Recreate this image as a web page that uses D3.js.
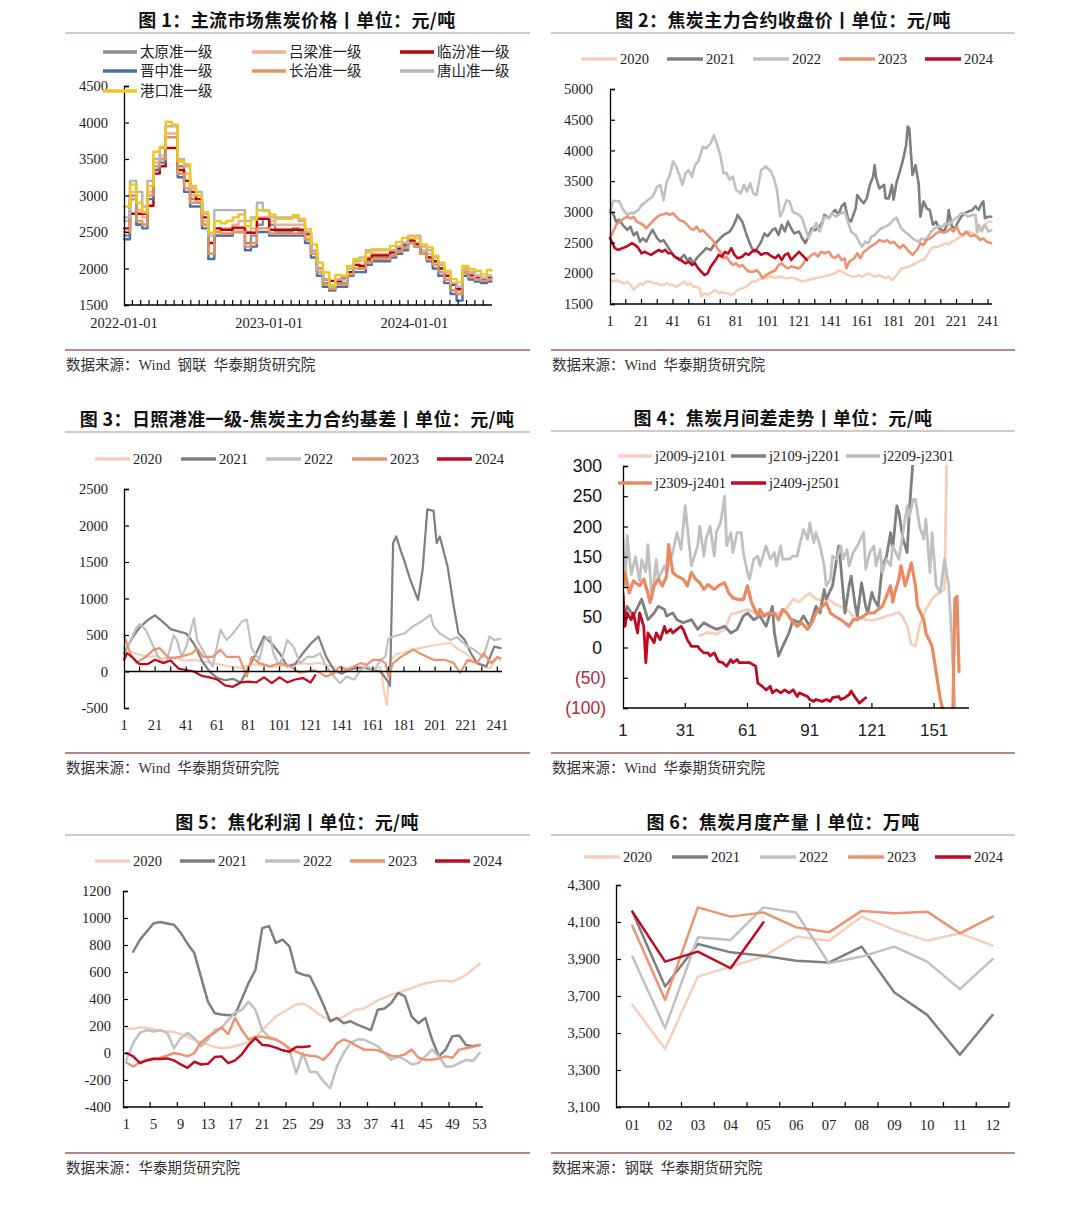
<!DOCTYPE html>
<html><head><meta charset="utf-8">
<script src="https://cdn.jsdelivr.net/npm/d3@7"></script>
<style>body{margin:0;background:#fff}svg{display:block}</style>
</head><body>
<svg id="c" width="1080" height="1211"></svg>
<script>
// ================= DATA =================
// Panel 1: 主流市场焦炭价格 (half-monthly readings, 2022-01-01 .. 2024-07-12)
const P1_NAMES = ['太原准一级','吕梁准一级','临汾准一级','晋中准一级','长治准一级','唐山准一级','港口准一级'];
const P1_TAIYUAN = [2450,3000,2600,2600,3050,3350,3500,3950,3950,3400,3200,2950,2900,2600,2200,2450,2450,2450,2550,2550,2350,2450,2600,2700,2600,2500,2500,2500,2550,2500,2400,2200,1950,1800,1700,1800,1800,1950,2050,2000,2100,2150,2150,2150,2200,2250,2300,2400,2350,2250,2150,2050,1950,1850,1700,1650,1950,1900,1850,1820,1850,1850];
const P1_LVLIANG = [2650,3050,2800,2700,3050,3450,3550,3850,3850,3350,3300,3000,2900,2650,2350,2550,2550,2550,2600,2650,2500,2550,2700,2700,2650,2600,2600,2600,2600,2600,2450,2250,2000,1850,1720,1850,1850,1950,2050,2050,2150,2200,2200,2200,2250,2300,2350,2400,2350,2250,2200,2100,2000,1900,1780,1700,1980,1930,1900,1870,1900,1900];
const P1_LINFEN = [2550,2750,2750,2750,2860,3300,3400,3650,3650,3350,3200,3050,2950,2700,2350,2550,2530,2530,2560,2560,2490,2490,2680,2680,2530,2530,2530,2530,2530,2530,2480,2250,2000,1850,1830,1830,1860,1950,2050,2030,2130,2180,2180,2180,2230,2280,2330,2380,2330,2200,2150,2100,2000,1900,1780,1720,1950,1900,1880,1850,1880,1880];
const P1_JINZHONG = [2400,2950,2600,2550,2950,3350,3450,3800,3800,3250,3050,2850,2850,2550,2130,2450,2450,2450,2500,2500,2250,2300,2500,2500,2450,2450,2450,2450,2450,2450,2350,2150,1900,1750,1700,1750,1750,1900,1950,1950,2050,2100,2100,2100,2150,2200,2250,2350,2300,2200,2100,2000,1900,1800,1650,1560,1900,1850,1820,1800,1820,1830];
const P1_CHANGZHI = [2500,2950,2650,2600,3000,3400,3500,3800,3800,3300,3100,2900,2900,2600,2200,2500,2480,2480,2500,2500,2300,2350,2550,2550,2480,2480,2480,2480,2480,2480,2400,2200,1950,1780,1720,1780,1780,1920,2000,2000,2080,2130,2130,2130,2180,2230,2280,2350,2300,2200,2120,2050,1950,1850,1700,1650,1950,1880,1850,1830,1850,1860];
const P1_TANGSHAN = [2700,3200,3050,2850,3200,3500,3650,3950,3950,3500,3400,3100,3050,2750,2450,2800,2800,2800,2800,2800,2650,2700,2900,2800,2700,2700,2700,2700,2700,2650,2500,2250,2000,1850,1750,1850,1850,2000,2100,2150,2250,2250,2250,2250,2250,2300,2350,2450,2450,2300,2250,2150,2050,1950,1800,1750,2000,1950,1900,1870,1900,1900];
const P1_GANGKOU = [2850,3150,2900,2770,3130,3600,3670,4010,3970,3470,3430,3130,3000,2770,2490,2650,2620,2650,2700,2740,2580,2670,2800,2790,2740,2680,2680,2680,2730,2680,2540,2330,2080,1945,1770,1910,1900,2035,2130,2110,2220,2265,2265,2260,2310,2365,2420,2440,2410,2330,2290,2175,2080,1970,1855,1810,2035,1990,1970,1920,1980,1965];
const P1_YTICKS = [1500,2000,2500,3000,3500,4000,4500];
const P1_XLABELS = ['2022-01-01','2023-01-01','2024-01-01'];

// Panel 2: 焦炭主力合约收盘价 ([trading-day index, price])
const YEARS = ['2020','2021','2022','2023','2024'];
const P2_2020 = [[1,1890],[3,1865],[5,1890],[7,1865],[10,1835],[12,1865],[14,1810],[16,1730],[18,1780],[20,1835],[22,1810],[24,1865],[26,1865],[29,1835],[31,1835],[33,1810],[35,1810],[37,1835],[39,1810],[41,1810],[43,1780],[45,1810],[48,1865],[50,1810],[52,1835],[54,1780],[56,1780],[58,1755],[59,1620],[61,1675],[63,1645],[66,1700],[68,1730],[70,1675],[72,1700],[74,1675],[76,1675],[78,1645],[80,1675],[82,1730],[85,1755],[87,1780],[89,1810],[91,1865],[93,1865],[95,1890],[97,1920],[99,1920],[102,1945],[104,1945],[106,1920],[108,1945],[110,1945],[112,1920],[114,1920],[116,1930],[118,1920],[121,1890],[123,1865],[127,1890],[131,1920],[136,1945],[140,1970],[144,2000],[146,2050],[148,2030],[150,2000],[152,1970],[155,1945],[157,1945],[159,1970],[161,1945],[163,1970],[165,2000],[167,1970],[169,1945],[172,1970],[174,1945],[176,1920],[178,1945],[180,1890],[182,1945],[184,2000],[186,2080],[188,2090],[191,2110],[193,2135],[195,2160],[197,2190],[199,2215],[201,2240],[203,2325],[205,2410],[207,2430],[209,2430],[212,2460],[214,2490],[216,2470],[218,2515],[220,2540],[222,2570],[224,2600],[226,2620],[229,2680],[231,2650],[233,2620],[235,2680],[237,2760],[239,2790],[241,2840],[243,2840]];
const P2_2021 = [[1,3000],[3,2970],[5,2840],[7,2870],[9,2790],[12,2705],[14,2760],[16,2620],[18,2670],[20,2515],[22,2570],[24,2515],[26,2620],[28,2705],[31,2570],[33,2515],[35,2540],[37,2460],[39,2380],[41,2300],[43,2250],[45,2215],[48,2300],[50,2215],[52,2245],[54,2160],[56,2245],[58,2300],[60,2350],[62,2410],[65,2380],[67,2460],[69,2515],[71,2570],[73,2620],[75,2650],[77,2680],[79,2760],[81,2870],[82,2950],[85,2840],[87,2680],[89,2540],[91,2410],[93,2350],[95,2430],[97,2515],[99,2650],[101,2600],[104,2705],[106,2730],[108,2620],[110,2790],[112,2680],[114,2840],[116,2730],[118,2650],[121,2680],[123,2570],[125,2490],[127,2600],[129,2730],[131,2700],[134,2760],[136,2840],[137,2950],[140,2900],[142,2980],[144,3030],[146,2950],[148,3090],[150,3140],[152,2895],[154,2840],[157,3060],[158,3275],[160,3200],[162,3140],[164,3220],[166,3440],[168,3570],[169,3760],[170,3550],[172,3380],[175,3440],[176,3220],[178,3220],[180,3440],[181,3200],[183,3490],[185,3660],[187,3845],[189,4090],[190,4390],[191,4360],[193,3600],[195,3760],[197,3440],[198,2920],[200,3170],[202,3060],[204,3030],[206,2790],[208,2840],[210,2730],[213,2680],[215,2790],[216,3030],[218,2760],[220,2730],[222,2840],[224,2920],[226,2980],[228,3000],[231,3030],[233,3090],[235,3030],[237,3140],[238,3170],[239,2895],[241,2920],[243,2920]];
const P2_2022 = [[1,3000],[3,3180],[7,3170],[9,3050],[12,2950],[14,2980],[16,2980],[19,3030],[21,3110],[24,3170],[28,3250],[31,3410],[33,3440],[35,3190],[37,3490],[39,3600],[41,3820],[43,3740],[45,3600],[47,3440],[49,3630],[51,3680],[53,3570],[55,3760],[57,3820],[60,4060],[62,4035],[65,4120],[67,4250],[69,4090],[71,3930],[73,3630],[75,3630],[77,3520],[79,3575],[81,3360],[84,3300],[86,3440],[88,3330],[90,3465],[92,3300],[94,3275],[97,3680],[100,3740],[103,3660],[105,3550],[107,3360],[109,2925],[111,3030],[113,3190],[115,3170],[117,3000],[121,2950],[123,2895],[125,2730],[127,2570],[129,2680],[132,2815],[134,2680],[136,2815],[137,2920],[140,2895],[142,2980],[144,2920],[146,2950],[148,2980],[150,3000],[152,2840],[154,2680],[157,2620],[159,2515],[161,2430],[163,2515],[165,2490],[167,2600],[169,2620],[171,2680],[173,2730],[176,2760],[178,2790],[180,2840],[182,2895],[183,2905],[184,2840],[186,2730],[188,2680],[191,2620],[193,2570],[195,2540],[197,2515],[199,2570],[201,2540],[203,2600],[205,2680],[207,2730],[209,2760],[212,2760],[214,2815],[216,2790],[218,2840],[220,2895],[222,2920],[224,2980],[226,2980],[228,2920],[231,2950],[233,2950],[234,2680],[235,2790],[237,2680],[239,2790],[241,2680],[243,2700]];
const P2_2023 = [[1,2570],[3,2680],[5,2790],[7,2840],[10,2895],[12,2920],[14,2895],[16,2920],[18,2840],[20,2815],[22,2790],[24,2730],[26,2790],[29,2870],[31,2920],[33,2950],[35,2960],[37,2980],[39,2950],[41,2980],[43,2920],[45,2870],[48,2840],[50,2790],[52,2730],[54,2705],[56,2760],[58,2680],[60,2700],[62,2650],[65,2570],[67,2515],[69,2410],[71,2350],[73,2245],[75,2270],[77,2190],[79,2135],[81,2160],[83,2110],[85,2135],[88,2050],[90,2025],[92,2025],[94,2050],[96,2000],[98,1920],[100,1970],[102,2000],[104,2025],[106,2050],[108,2135],[110,2160],[112,2110],[114,2080],[116,2110],[121,2080],[123,2130],[125,2215],[127,2245],[129,2300],[131,2325],[133,2270],[135,2350],[137,2325],[140,2350],[142,2270],[144,2250],[146,2300],[148,2215],[150,2240],[151,2080],[153,2190],[156,2245],[158,2325],[160,2245],[162,2350],[164,2380],[166,2430],[168,2460],[170,2490],[172,2540],[175,2515],[177,2540],[179,2490],[181,2515],[183,2460],[185,2410],[187,2460],[189,2410],[191,2350],[193,2300],[196,2380],[198,2490],[200,2460],[202,2540],[204,2570],[206,2600],[208,2650],[210,2680],[213,2660],[215,2680],[217,2730],[219,2680],[221,2760],[223,2650],[225,2620],[227,2680],[230,2600],[232,2620],[234,2600],[236,2540],[238,2570],[240,2515],[243,2490]];
const P2_2024 = [[1,2570],[2,2520],[4,2410],[6,2380],[8,2400],[11,2430],[13,2460],[15,2490],[17,2460],[19,2410],[21,2325],[23,2350],[25,2325],[27,2300],[30,2350],[32,2380],[34,2350],[36,2380],[38,2325],[40,2330],[42,2270],[44,2245],[46,2215],[49,2160],[51,2190],[53,2135],[55,2160],[57,2080],[59,2025],[61,1970],[63,2000],[65,2110],[68,2215],[70,2300],[72,2270],[74,2350],[76,2320],[78,2410],[80,2300],[82,2245],[85,2270],[87,2325],[89,2300],[91,2350],[93,2380],[95,2350],[97,2300],[99,2325],[101,2325],[104,2270],[106,2245],[108,2300],[110,2215],[112,2300],[114,2325],[116,2215],[118,2270],[121,2350],[124,2270],[126,2215]];
const P2_YTICKS = [1500,2000,2500,3000,3500,4000,4500,5000];
const P2_XLABELS = [1,21,41,61,81,101,121,141,161,181,201,221,241];

// Panel 3: 日照港准一级-焦炭主力合约基差 ([trading-day index, basis])
const P3_2020 = [[1,320],[6,260],[11,230],[16,200],[21,210],[26,180],[31,200],[36,170],[41,150],[46,160],[51,140],[56,120],[61,100],[66,80],[71,60],[76,50],[81,80],[86,100],[91,80],[96,60],[101,70],[106,90],[111,100],[116,110],[121,100],[126,120],[131,90],[136,60],[141,40],[146,50],[151,60],[156,50],[161,40],[166,60],[168,-250],[170,-460],[172,150],[176,240],[181,260],[186,300],[191,320],[196,340],[201,360],[206,380],[211,390],[216,300],[221,250],[226,130],[231,80],[236,40],[241,180],[243,150]];
const P3_2021 = [[1,250],[6,450],[11,600],[16,700],[21,770],[26,680],[31,580],[36,550],[41,520],[46,380],[51,150],[56,0],[61,-90],[66,-120],[71,-100],[76,-150],[81,50],[86,250],[91,480],[96,380],[101,250],[106,70],[111,100],[116,250],[121,380],[126,480],[131,200],[136,20],[141,-30],[146,30],[151,50],[156,50],[161,20],[166,0],[171,-150],[172,-200],[174,1760],[176,1850],[179,1650],[181,1530],[185,1260],[190,980],[193,1400],[196,2220],[200,2200],[202,1760],[204,1850],[209,1440],[213,890],[216,525],[220,435],[224,250],[228,115],[234,70],[239,340],[243,320]];
const P3_2022 = [[1,200],[5,420],[9,600],[11,650],[15,570],[20,340],[24,160],[28,115],[33,500],[35,430],[38,200],[41,340],[46,730],[48,430],[54,200],[58,70],[63,570],[67,430],[71,520],[77,690],[80,710],[83,320],[88,160],[91,430],[95,480],[97,250],[101,70],[106,430],[110,340],[114,115],[119,200],[123,200],[127,250],[131,70],[136,-70],[140,-160],[144,-70],[149,-110],[153,20],[157,70],[162,20],[166,160],[169,200],[171,450],[174,480],[181,520],[187,620],[194,710],[198,780],[200,620],[204,520],[211,430],[215,470],[222,340],[226,300],[232,200],[236,480],[239,430],[243,450]];
const P3_2023 = [[1,500],[5,250],[9,115],[15,200],[20,300],[24,320],[30,180],[37,200],[45,250],[48,320],[52,200],[58,200],[63,300],[67,200],[75,200],[80,-70],[83,200],[88,115],[95,70],[101,115],[108,70],[114,-20],[123,20],[127,-20],[131,-70],[136,-20],[140,70],[144,20],[149,70],[153,115],[157,90],[161,160],[166,160],[169,115],[171,-70],[174,115],[179,200],[183,250],[187,300],[191,250],[196,200],[200,160],[207,160],[213,115],[217,-20],[222,160],[228,115],[232,250],[237,115],[241,200],[243,180]];
const P3_2024 = [[1,160],[3,250],[6,200],[11,100],[16,100],[21,160],[26,115],[31,150],[36,40],[41,20],[46,0],[51,-60],[56,-80],[61,-110],[66,-190],[71,-210],[76,-150],[81,-140],[86,-150],[91,-80],[96,-160],[101,-80],[106,-150],[111,-110],[116,-90],[121,-150],[124,-50]];
const P3_YTICKS = [-500,0,500,1000,1500,2000,2500];
const P3_XLABELS = [1,21,41,61,81,101,121,141,161,181,201,221,241];

// Panel 4: 焦炭月间差走势
const P4_NAMES = ['j2009-j2101','j2109-j2201','j2209-j2301','j2309-j2401','j2409-j2501'];
const P4_J2009 = [[38,20],[42,25],[46,22],[50,30],[53,55],[57,58],[61,63],[65,57],[70,52],[74,55],[77,58],[80,65],[83,80],[86,75],[88,82],[91,90],[94,80],[97,78],[100,80],[103,72],[106,68],[109,62],[112,52],[115,50],[118,46],[121,45],[125,48],[128,52],[131,55],[134,58],[136,50],[138,35],[140,5],[142,2],[144,35],[147,63],[150,80],[153,90],[156,96],[157,300]];
const P4_J2109 = [[1,35],[3,68],[6,52],[10,80],[13,46],[16,57],[18,68],[21,63],[22,52],[25,57],[27,46],[30,41],[34,46],[37,30],[40,41],[43,35],[46,30],[50,35],[53,24],[56,30],[59,52],[61,57],[64,46],[67,52],[70,35],[73,68],[74,24],[76,-14],[78,2],[81,24],[83,46],[86,41],[88,52],[90,41],[91,35],[94,68],[96,57],[98,96],[99,80],[102,102],[103,124],[105,168],[106,135],[108,57],[110,102],[111,118],[113,68],[114,52],[116,107],[118,68],[119,57],[121,91],[122,80],[124,68],[126,135],[128,150],[130,190],[131,162],[133,234],[134,223],[136,179],[138,157],[139,223],[141,320]];
const P4_J2209 = [[1,180],[2,100],[3,185],[5,120],[7,150],[9,110],[10,145],[12,125],[13,170],[15,80],[17,145],[18,113],[21,135],[22,125],[25,157],[27,190],[29,162],[31,234],[32,200],[34,135],[37,168],[38,200],[40,151],[41,179],[43,200],[45,151],[46,190],[48,206],[50,250],[51,168],[53,190],[54,157],[56,190],[58,190],[59,157],[61,124],[62,113],[64,146],[66,151],[67,135],[69,157],[70,168],[72,146],[74,157],[75,135],[77,168],[78,146],[81,146],[83,151],[85,151],[86,168],[88,195],[90,179],[91,206],[93,173],[94,190],[96,168],[98,135],[99,102],[101,113],[102,151],[104,146],[106,168],[107,146],[109,162],[110,135],[112,157],[114,168],[117,190],[118,129],[120,157],[122,168],[123,135],[125,162],[126,124],[128,146],[130,135],[131,168],[134,146],[136,190],[138,234],[139,217],[141,245],[142,245],[144,200],[146,179],[147,212],[149,124],[150,190],[152,102],[154,91],[156,146],[158,102],[159,46],[161,-97]];
const P4_J2309 = [[1,102],[2,124],[4,90],[6,110],[9,102],[11,113],[13,90],[14,74],[16,102],[18,113],[20,102],[22,118],[23,170],[25,124],[27,118],[30,113],[32,102],[34,124],[36,113],[38,107],[40,96],[42,104],[45,96],[47,102],[50,107],[52,90],[54,82],[57,79],[59,79],[61,102],[63,74],[66,52],[67,63],[69,52],[71,57],[74,57],[76,46],[78,63],[80,57],[82,46],[85,35],[87,41],[90,30],[92,41],[94,57],[97,68],[99,74],[101,57],[103,52],[106,46],[108,41],[110,35],[112,46],[114,46],[117,52],[119,57],[122,57],[124,63],[126,68],[128,85],[130,102],[131,75],[132,90],[134,113],[135,135],[137,102],[138,113],[140,140],[142,102],[143,68],[146,46],[147,24],[150,2],[151,-20],[153,-64],[154,-86],[155,-100],[158,-130],[160,-110],[161,80],[162,85],[163,-40]];
const P4_J2409 = [[1,90],[2,35],[3,57],[5,46],[6,57],[8,24],[9,57],[11,35],[12,-25],[13,24],[14,19],[16,8],[17,24],[19,13],[21,35],[22,24],[24,30],[25,24],[27,30],[29,35],[30,30],[32,13],[34,2],[37,2],[38,-3],[40,-9],[42,-9],[43,-14],[45,-9],[47,-23],[49,-25],[51,-31],[53,-20],[54,-25],[56,-20],[57,-25],[60,-25],[62,-25],[65,-31],[66,-59],[68,-64],[70,-70],[72,-64],[73,-75],[75,-70],[77,-75],[79,-70],[81,-75],[83,-70],[85,-81],[86,-75],[88,-78],[90,-81],[91,-86],[93,-89],[94,-86],[97,-89],[99,-86],[101,-89],[102,-83],[105,-81],[106,-86],[108,-83],[110,-78],[111,-72],[113,-83],[115,-92],[117,-86],[118,-83]];
const P4_YTICKS = [-100,-50,0,50,100,150,200,250,300];
const P4_XLABELS = [1,31,61,91,121,151];

// Panel 5: 焦化利润 (week 1..53)
const P5_2020 = [180,180,190,185,175,165,160,155,140,120,95,80,60,45,35,40,50,65,80,110,170,220,270,300,330,360,365,340,300,265,245,250,270,300,325,330,360,390,410,430,445,465,480,500,515,525,535,535,530,550,580,620,660];
const P5_2021 = [null,750,840,900,960,970,960,950,890,810,740,560,380,295,285,280,285,400,520,615,925,940,815,840,790,600,580,570,470,360,235,260,220,235,210,190,170,320,330,370,445,420,270,220,260,100,-25,25,125,130,60,50,60];
const P5_2022 = [-50,75,150,170,160,170,150,35,110,150,110,50,100,170,185,245,300,320,380,320,170,120,100,75,25,-150,0,-140,-140,-210,-260,-100,0,75,100,100,75,50,0,-50,-25,-50,-85,-75,-25,25,-25,-100,-100,-75,-50,-60,0];
const P5_2023 = [-70,-100,-70,-50,-40,-35,-20,0,-10,-25,0,80,120,150,190,140,260,170,100,120,120,110,100,70,35,10,-12,-20,-25,-50,0,70,100,80,50,25,25,20,0,-20,-25,-10,25,-35,-50,-50,-40,-25,-35,25,35,45,60];
const P5_2024 = [0,-25,-75,-55,-45,-45,-40,-55,-85,-110,-65,-85,-80,-30,-25,-75,-55,-10,60,110,60,55,40,20,10,45,45,50];
const P5_YTICKS = [-400,-200,0,200,400,600,800,1000,1200];
const P5_XLABELS = [1,5,9,13,17,21,25,29,33,37,41,45,49,53];

// Panel 6: 焦炭月度产量 (万吨)
const P6_MONTHS = ['01','02','03','04','05','06','07','08','09','10','11','12'];
const P6_2020 = [3652,3413,3805,3859,3913,4021,3999,4129,4057,3999,4039,3972];
const P6_2021 = [4156,3751,3981,3936,3917,3891,3881,3967,3719,3598,3382,3598];
const P6_2022 = [3913,3526,4017,4003,4179,4151,3877,3913,3967,3886,3737,3899];
const P6_2023 = [4080,3679,4179,4129,4152,4071,4044,4160,4147,4156,4039,4129];
const P6_2024 = [4156,3886,3940,3850,4098];
const P6_YTICKS = [3100,3300,3500,3700,3900,4100,4300];

// ================= STYLE =================
const SERIF = '"Liberation Serif","Times New Roman","Noto Sans CJK SC",serif';
const SANS = '"Liberation Sans",Arial,sans-serif';
const CJK = '"Noto Sans CJK SC","Noto Sans",sans-serif';
const C2020 = '#f6cfb9', C2021 = '#7f7f7f', C2022 = '#c0c0c0', C2023 = '#ec9472', C2024 = '#c00a22';
const YCOLORS = [C2020, C2021, C2022, C2023, C2024];
const P1_COLORS = ['#8e8e8e','#f4ae8e','#c00000','#4d6eab','#e2955c','#b5b5b5','#f4c51b'];

const svg = d3.select('#c');

function frame(cx, x0, x1, ruleTop, ruleBot, title, source) {
  svg.append('text').attr('x', cx).attr('y', ruleTop - 6.5).attr('text-anchor', 'middle')
    .attr('font-family', CJK).attr('font-weight', 700).attr('font-size', 18).attr('letter-spacing', 0.4)
    .attr('fill', '#111').text(title);
  svg.append('line').attr('x1', x0).attr('x2', x1).attr('y1', ruleTop).attr('y2', ruleTop)
    .attr('stroke', '#a8918d').attr('stroke-width', 1.2);
  svg.append('line').attr('x1', x0).attr('x2', x1).attr('y1', ruleBot).attr('y2', ruleBot)
    .attr('stroke', '#b38883').attr('stroke-width', 2);
  svg.append('text').attr('x', x0 + 1).attr('y', ruleBot + 19.5).attr('font-family', SERIF)
    .attr('font-size', 14.5).attr('fill', '#333').attr('xml:space', 'preserve').text(source);
}

function legend(items) {
  items.forEach(it => {
    svg.append('line').attr('x1', it.x).attr('x2', it.x + (it.len || 35)).attr('y1', it.y).attr('y2', it.y)
      .attr('stroke', it.color).attr('stroke-width', 3.5);
    svg.append('text').attr('x', it.x + (it.len || 35) + 3).attr('y', it.y + 5)
      .attr('font-family', SERIF).attr('font-size', 14.5).attr('fill', '#222').text(it.label);
  });
}

function yAxis(x0, y, ticks, fmt, pad, font, size, colorFn) {
  const g = svg.append('g').attr('transform', `translate(${x0},0)`)
    .call(d3.axisLeft(y).tickValues(ticks).tickSize(-5).tickPadding(pad).tickFormat(fmt));
  g.select('.domain').attr('stroke', '#000').attr('stroke-width', 1.3);
  g.selectAll('.tick line').attr('stroke', '#000').attr('stroke-width', 1.2);
  g.selectAll('text').attr('font-family', font).attr('font-size', size).attr('fill', colorFn || '#222');
  return g;
}

function hTicks(yLine, xs, x0, x1) {
  svg.append('line').attr('x1', x0).attr('x2', x1).attr('y1', yLine).attr('y2', yLine)
    .attr('stroke', '#000').attr('stroke-width', 1.3);
  svg.append('g').selectAll('line').data(xs).join('line')
    .attr('x1', d => d).attr('x2', d => d).attr('y1', yLine).attr('y2', yLine - 5)
    .attr('stroke', '#000').attr('stroke-width', 1.2);
}

function xLabels(data, xf, yBase, font, size, fmt) {
  svg.append('g').selectAll('text').data(data).join('text')
    .attr('x', d => xf(d)).attr('y', yBase).attr('text-anchor', 'middle')
    .attr('font-family', font).attr('font-size', size).attr('fill', '#222')
    .text(d => fmt ? fmt(d) : d);
}

function path(g, pts, xf, yf, color, w, curve) {
  g.append('path').datum(pts)
    .attr('d', d3.line().defined(d => d[1] !== null).x(d => xf(d[0])).y(d => yf(d[1])).curve(curve || d3.curveLinear))
    .attr('fill', 'none').attr('stroke', color).attr('stroke-width', w)
    .attr('stroke-linejoin', 'round').attr('stroke-linecap', 'round');
}
const zip = (xs, vs) => vs.map((v, i) => [xs[i], v]);

// ================= PANEL 1 =================
frame(297, 65, 530, 33, 350, '图 1：主流市场焦炭价格丨单位：元/吨', '数据来源：Wind  钢联  华泰期货研究院');
{
  const dates = [];
  for (let yr = 2022; yr <= 2024; yr++) for (let m = 0; m < 12; m++) {
    const a = new Date(yr, m, 1), b = new Date(yr, m, 16);
    if (a <= new Date(2024, 6, 1)) dates.push(a);
    if (b < new Date(2024, 6, 1)) dates.push(b);
  }
  dates.push(new Date(2024, 6, 12));
  const x = d3.scaleTime().domain([new Date(2022, 0, 1), new Date(2024, 6, 14)]).range([124, 492]);
  const y = d3.scaleLinear().domain([1500, 4500]).range([305, 86]);
  const g = svg.append('g');
  const series = [P1_TAIYUAN, P1_LVLIANG, P1_LINFEN, P1_JINZHONG, P1_CHANGZHI, P1_TANGSHAN, P1_GANGKOU];
  series.forEach((s, i) => path(g, zip(dates, s), x, y, P1_COLORS[i], 2.4, d3.curveStepAfter));
  yAxis(124, y, P1_YTICKS, d => d, 16, SERIF, 14.5);
  const tk = d3.range(21, 923, 21).map(d => x(new Date(2022, 0, 1 + d)));
  hTicks(305, tk, 124, 492);
  xLabels(P1_XLABELS, d => x(new Date(d + 'T00:00:00')), 328, SERIF, 14.5);
  const cols = [103, 252, 400], rows = [52, 71, 91];
  legend(P1_NAMES.map((n, i) => ({ x: cols[i % 3], y: rows[Math.floor(i / 3)], color: P1_COLORS[i], label: n, len: 34 })));
}

// ================= PANEL 2 =================
frame(783, 551, 1015, 33, 350, '图 2：焦炭主力合约收盘价丨单位：元/吨', '数据来源：Wind  华泰期货研究院');
{
  const x = d3.scaleLinear().domain([1, 243.5]).range([610, 992]);
  const y = d3.scaleLinear().domain([1500, 5000]).range([304, 89]);
  const g = svg.append('g');
  [P2_2020, P2_2021, P2_2022, P2_2023, P2_2024].forEach((s, i) => path(g, s, x, y, YCOLORS[i], 2.6));
  yAxis(610, y, P2_YTICKS, d => d, 17, SERIF, 14.5);
  hTicks(304, d3.range(11, 243, 10).map(x), 610, 992);
  xLabels(P2_XLABELS, x, 326, SERIF, 14.5);
  const xs = [581, 667, 753, 839, 925];
  legend(YEARS.map((n, i) => ({ x: xs[i], y: 59, color: YCOLORS[i], label: n, len: 36 })));
}

// ================= PANEL 3 =================
frame(297, 65, 530, 432, 753, '图 3：日照港准一级-焦炭主力合约基差丨单位：元/吨', '数据来源：Wind  华泰期货研究院');
{
  const x = d3.scaleLinear().domain([1, 244]).range([124, 502]);
  const y = d3.scaleLinear().domain([-500, 2500]).range([708, 489]);
  const g = svg.append('g');
  [P3_2020, P3_2021, P3_2022, P3_2023, P3_2024].forEach((s, i) => path(g, s, x, y, YCOLORS[i], 2.2));
  yAxis(124, y, P3_YTICKS, d => d, 16, SERIF, 14.5);
  hTicks(y(0), d3.range(11, 244, 10).map(x), 124, 502);
  xLabels(P3_XLABELS, x, 730, SERIF, 14.5);
  const xs = [95, 181, 266, 352, 437];
  legend(YEARS.map((n, i) => ({ x: xs[i], y: 459, color: YCOLORS[i], label: n, len: 35 })));
}

// ================= PANEL 4 =================
frame(783, 551, 1015, 431, 753, '图 4：焦炭月间差走势丨单位：元/吨', '数据来源：Wind  华泰期货研究院');
{
  const x = d3.scaleLinear().domain([1, 167.8]).range([623, 969]);
  const y = d3.scaleLinear().domain([-100, 300]).range([708, 466]);
  svg.append('clipPath').attr('id', 'clip4').append('rect')
    .attr('x', 623).attr('y', 465).attr('width', 346).attr('height', 244);
  const g = svg.append('g').attr('clip-path', 'url(#clip4)');
  const cols = [C2020, C2021, C2022, '#ea8a62', C2024];
  [P4_J2009, P4_J2109, P4_J2209, P4_J2309, P4_J2409].forEach((s, i) => path(g, s, x, y, cols[i], i === 3 ? 3.2 : 2.8));
  const fmt = d => d < 0 ? `(${-d})` : `${d}`;
  const ga = yAxis(623, y, P4_YTICKS, fmt, 17, SANS, 17.5, d => d < 0 ? '#b5283a' : '#111');
  ga.selectAll('.tick text').attr('dx', d => d < 0 ? 0 : -4);
  hTicks(708, [31, 61, 91, 121, 151].map(x), 623, 969);
  xLabels(P4_XLABELS, x, 736, SANS, 17);
  legend([
    { x: 618, y: 456, color: cols[0], label: P4_NAMES[0], len: 34 },
    { x: 731, y: 456, color: cols[1], label: P4_NAMES[1], len: 35 },
    { x: 846, y: 456, color: cols[2], label: P4_NAMES[2], len: 34 },
    { x: 618, y: 483, color: cols[3], label: P4_NAMES[3], len: 34 },
    { x: 731, y: 483, color: cols[4], label: P4_NAMES[4], len: 35 }
  ]);
}

// ================= PANEL 5 =================
frame(297, 65, 530, 835, 1153, '图 5：焦化利润丨单位：元/吨', '数据来源：华泰期货研究院');
{
  const weeks = d3.range(1, 54);
  const xb = d3.scaleBand().domain(weeks).range([123, 483]);
  const x = w => xb(w) + xb.bandwidth() / 2;
  const y = d3.scaleLinear().domain([-400, 1200]).range([1107, 891]);
  const g = svg.append('g');
  [P5_2020, P5_2021, P5_2022, P5_2023, P5_2024].forEach((s, i) => path(g, zip(weeks, s), x, y, YCOLORS[i], 2.5));
  yAxis(123, y, P5_YTICKS, d => d, 12, SERIF, 14.5);
  hTicks(1107, d3.range(5, 54, 4).map(w => xb(w)), 123, 483);
  xLabels(P5_XLABELS, x, 1129, SERIF, 14.5);
  const xs = [95, 180, 265, 350, 435];
  legend(YEARS.map((n, i) => ({ x: xs[i], y: 861, color: YCOLORS[i], label: n, len: 35 })));
}

// ================= PANEL 6 =================
frame(783, 551, 1015, 835, 1153, '图 6：焦炭月度产量丨单位：万吨', '数据来源：钢联  华泰期货研究院');
{
  const xb = d3.scaleBand().domain(P6_MONTHS).range([616, 1009]);
  const x = m => xb(m) + xb.bandwidth() / 2;
  const y = d3.scaleLinear().domain([3100, 4300]).range([1107, 885]);
  const g = svg.append('g');
  [P6_2020, P6_2021, P6_2022, P6_2023, P6_2024].forEach((s, i) => path(g, zip(P6_MONTHS, s), x, y, YCOLORS[i], 2.5));
  yAxis(616, y, P6_YTICKS, d3.format(','), 16, SERIF, 14.5);
  hTicks(1107, P6_MONTHS.map(m => xb(m) + xb.bandwidth()), 616, 1009);
  xLabels(P6_MONTHS, x, 1130, SERIF, 14.5);
  const xs = [584, 672, 760, 848, 935];
  legend(YEARS.map((n, i) => ({ x: xs[i], y: 857, color: YCOLORS[i], label: n, len: 36 })));
}
</script>
</body></html>
